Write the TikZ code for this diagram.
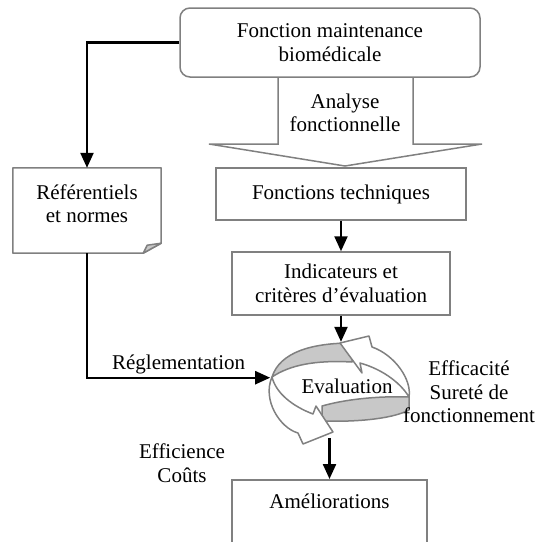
\documentclass[tikz,border=0pt]{standalone}
\usepackage{fontspec}
\setmainfont{Liberation Serif}
\usetikzlibrary{arrows.meta,shapes.geometric}
\definecolor{boxgray}{RGB}{128,128,128}
\definecolor{ringgray}{RGB}{200,200,200}
\tikzset{
  box/.style={draw=boxgray, line width=1.5pt, fill=white, align=center, inner sep=0pt},
  txt/.style={align=center, inner sep=0pt},
  flow/.style={line width=2.3pt, -{Triangle[length=15pt,width=13pt]}},
  ring/.style={draw=boxgray, line width=1.5pt, line join=round},
}
\begin{document}
\begin{tikzpicture}[x=1pt, y=-1pt, font=\fontsize{21}{23.5}\selectfont]
  \useasboundingbox (0,0) rectangle (543,541);
  % la flecha grande, debajo de la caja de arriba
  \filldraw[ring, fill=white, line join=miter] (278,70) -- (278,144) -- (209,144) -- (345,166)
    -- (482,144) -- (413,144) -- (413,70) -- cycle;
  % las cajas
  \node[box, rounded corners=10pt, minimum width=300pt, minimum height=69pt] (fmb) at (330,42.5) {Fonction maintenance\\biomédicale};
  \node[txt] (af) at (345,113) {Analyse\\fonctionnelle};
  \node[box, minimum width=250pt, minimum height=52pt] (ft) at (341,194) {Fonctions techniques};
  \node[box, minimum width=218pt, minimum height=63pt] (ind) at (341,283.5) {Indicateurs et\\critères d’évaluation};
  \node[minimum width=148pt, minimum height=85pt, inner sep=0pt] (ref) at (87,210.5) {};
  \node[txt] (reftxt) at (87,203.5) {Référentiels\\et normes};
  \node[ellipse, minimum width=144pt, minimum height=96pt, inner sep=0pt] (eval) at (340,390) {};
  \node[txt] (evaltxt) at (347,386) {Evaluation};
  \node[box, anchor=north, minimum width=195pt, minimum height=100pt] (amel) at (329.5,479) {};
  \node[txt] (ameltxt) at (329.5,501) {Améliorations};
  \node[txt] (effi) at (182,463) {Efficience\\Coûts};
  % la hoja con la esquina doblada
  \draw[ring] (ref.north west) -- (ref.north east) -- ([yshift=10pt]ref.south east)
    -- ([xshift=-18pt]ref.south east) -- (ref.south west) -- cycle;
  \filldraw[ring, fill=ringgray] ([yshift=10pt]ref.south east) -- ([xshift=-18pt]ref.south east)
    -- ([xshift=-14pt,yshift=8pt]ref.south east) -- cycle;
  % el ciclo: las dos colas grises
  \filldraw[ring, fill=ringgray] (272,377) .. controls (280,352) and (312,343) .. (352,343)
    -- (352,362) .. controls (315,360) and (290,365) .. (272,377) -- cycle;
  \filldraw[ring, fill=ringgray] (322,406) .. controls (350,398) and (385,396) .. (409,397)
    -- (409,410) .. controls (390,420) and (350,422) .. (322,421) -- cycle;
  % y las dos puntas blancas
  \filldraw[ring, fill=white] (272,377) .. controls (262,400) and (280,428) .. (298,433)
    -- (303,444) -- (333,432) -- (316,406) -- (313,414)
    .. controls (292,406) and (276,393) .. (272,377) -- cycle;
  \filldraw[ring, fill=white] (409,397) .. controls (412,380) and (395,355) .. (372,347)
    -- (369,336) -- (340,343) -- (362,373) -- (360,363)
    .. controls (385,370) and (402,385) .. (409,397) -- cycle;
  \node[txt] (effa) at (469,392) {Efficacité\\Sureté de\\fonctionnement};
  % las flechas
  \draw[flow] (fmb.west) -| (ref.north);
  \draw[flow] (ft.south) -- (ind.north);
  \draw[flow] (ind.south) -- (ind.south |- eval.north);
  \draw[flow] (ref.south) |- node[above, pos=0.75, inner sep=3pt] (regl) {Réglementation} (eval.170);
  \draw[flow] (amel.north |- eval.south) -- (amel.north);
\end{tikzpicture}
\end{document}
